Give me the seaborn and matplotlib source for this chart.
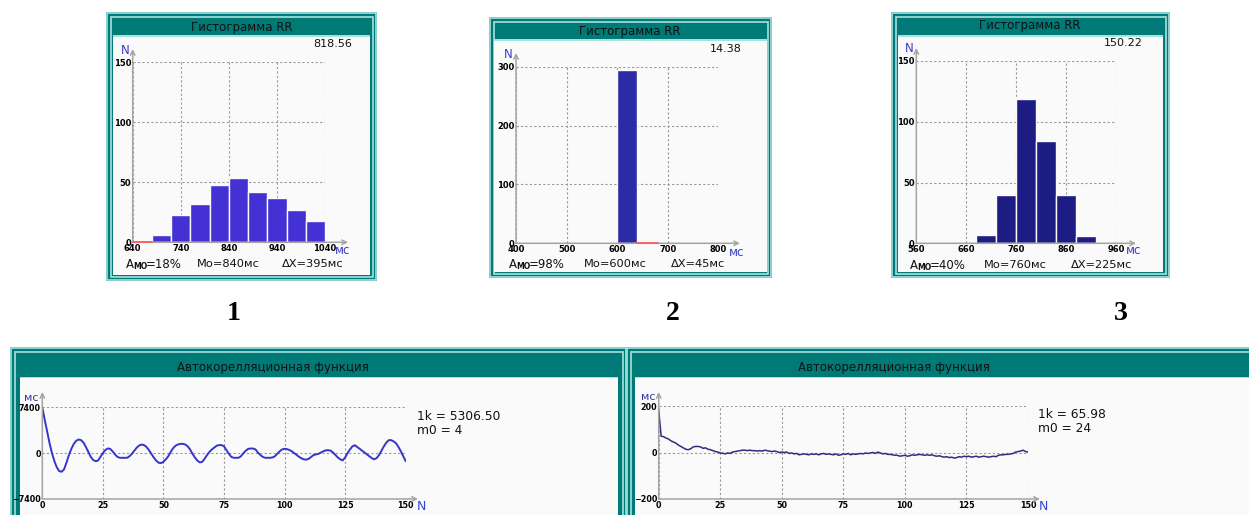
import matplotlib
matplotlib.use('Agg')
import matplotlib.pyplot as plt
import seaborn as sns
from matplotlib.patches import Rectangle

# ---------------- data ----------------
hist_title = 'Гистограмма RR'
acf_title = 'Автокорелляционная функция'
bin_width = 40

h1_bin_left = [680, 720, 760, 800, 840, 880, 920, 960, 1000]
h1_counts = [6, 23, 32, 48, 54, 42, 37, 27, 18]
h1_red = [640, 680]
h1_xticks = [640, 740, 840, 940, 1040]
h1_yticks = [0, 50, 100, 150]
h1_texts = ['818.56', '=18%', 'Мо=840мс', 'ΔX=395мс']

h2_bin_left = [560, 600]
h2_counts = [3, 295]
h2_red = [640, 680]
h2_xticks = [400, 500, 600, 700, 800]
h2_yticks = [0, 100, 200, 300]
h2_texts = ['14.38', '=98%', 'Мо=600мс', 'ΔX=45мс']

h3_bin_left = [680, 720, 760, 800, 840, 880]
h3_counts = [7, 40, 119, 84, 40, 6]
h3_xticks = [560, 660, 760, 860, 960]
h3_yticks = [0, 50, 100, 150]
h3_texts = ['150.22', '=40%', 'Мо=760мс', 'ΔX=225мс']

acf_lags = list(range(151))
acf1_values = [7400, 5400, 3500, 1600, 0, -1300, -2300, -2900, -3000, -2600,
               -1500, -300, 700, 1500, 2000, 2200, 2100, 1700, 1000, 200,
               -600, -1100, -1300, -1200, -600, 0, 500, 750, 700, 300,
               -200, -600, -750, -750, -750, -750, -500, -100, 400, 900,
               1250, 1380, 1300, 1000, 500, -100, -700, -1200, -1550, -1600,
               -1400, -1000, -500, 200, 800, 1200, 1400, 1500, 1500, 1400,
               1100, 600, -100, -700, -1200, -1500, -1400, -900, -300, 200,
               600, 900, 1200, 1300, 1300, 1100, 500, -100, -600, -750,
               -750, -750, -500, 0, 400, 700, 750, 750, 600, 100,
               -300, -600, -750, -750, -750, -700, -500, -100, 300, 600,
               700, 650, 500, 300, 0, -300, -600, -850, -1000, -1050,
               -900, -600, -300, -200, -100, 100, 300, 450, 480, 400,
               100, -300, -700, -1000, -1170, -700, 0, 600, 1100, 1280,
               1000, 700, 400, 100, -200, -500, -800, -1000, -800, -300,
               400, 1100, 1700, 2100, 2100, 1900, 1600, 1000, 300, -500,
               -1300]
acf1_texts = ['1k = 5306.50', 'm0 = 4']
acf1_yticks = [-7400, 0, 7400]

acf2_values = [180, 70, 68, 62, 58, 50, 45, 40, 32, 26,
               20, 14, 12, 16, 24, 26, 26, 24, 18, 20,
               14, 12, 8, 4, 2, -2, -3, -6, -2, -4,
               2, 4, 6, 8, 10, 10, 8, 10, 8, 8,
               6, 8, 6, 10, 8, 6, 4, 6, 4, 0,
               2, 0, 2, -4, -2, -6, -4, -10, -8, -6,
               -8, -10, -6, -8, -6, -10, -6, -4, -8, -6,
               -8, -10, -6, -12, -10, -6, -8, -4, -10, -6,
               -8, -6, -4, -6, -2, -4, -2, 0, -4, 2,
               -2, -6, -4, -8, -8, -10, -12, -12, -16, -14,
               -12, -16, -14, -10, -12, -10, -8, -10, -12, -10,
               -12, -10, -14, -16, -14, -18, -20, -18, -22, -20,
               -24, -22, -18, -20, -16, -18, -16, -20, -18, -16,
               -20, -18, -16, -18, -20, -18, -16, -18, -12, -10,
               -10, -8, -8, -6, -4, 2, 4, 6, 10, 4,
               2]
acf2_texts = ['1k = 65.98', 'm0 = 24']
acf2_yticks = [-200, 0, 200]
acf_xticks = [0, 25, 50, 75, 100, 125, 150]

# ---------------- style ----------------
sns.set_style('white')
plt.rcParams['font.family'] = ['DejaVu Sans']

W, H = 1249, 515
TEAL = '#007a76'
LIGHT = '#a6e2de'
BG = '#fafafa'
GRID = '#9a9a9a'
AXC = '#a4a4a4'
LBLUE = '#3a3acc'

fig = plt.figure(figsize=(W / 100, H / 100), dpi=100)
fig.patch.set_facecolor('white')


def rect(x0, y0, x1, y1, fc='none', ec='none', lw=0, z=-5):
    fig.add_artist(Rectangle((x0 / W, 1 - y1 / H), (x1 - x0) / W, (y1 - y0) / H,
                             transform=fig.transFigure, facecolor=fc,
                             edgecolor=ec, linewidth=lw, zorder=z))


def frame(outer, white):
    x0, y0, x1, y1 = outer
    rect(x0, y0, x1, y1, fc=TEAL, z=-6)
    rect(x0 + 0.8, y0 + 0.8, x1 - 0.8, y1 - 0.8, ec=LIGHT, lw=1.2, z=-5.5)
    rect(x0 + 4.5, y0 + 5, x1 - 4.5, y1 - 4.5, ec=LIGHT, lw=1.2, z=-5.5)
    wx0, wy0, wx1, wy1 = white
    rect(wx0, wy0 - 1.5, wx1, wy0, fc=LIGHT, z=-5.2)
    rect(wx0, wy0, wx1, wy1, fc=BG, z=-5)


def T(x, y, s, **kw):
    kw.setdefault('va', 'center')
    fig.text(x / W, 1 - y / H, s, **kw)


def axes_px(x0, x1, ytop, ybot):
    ax = fig.add_axes([x0 / W, 1 - ybot / H, (x1 - x0) / W, (ybot - ytop) / H])
    ax.set_facecolor('none')
    ax.patch.set_alpha(0)
    return ax


def style_axes(ax, xlim, ylim, xticks, yticks, arrow_x, arrow_y, fs=6):
    ax.set_xlim(xlim)
    ax.set_ylim(ylim)
    ax.set_xticks(xticks)
    ax.set_yticks(yticks)
    ax.set_xlabel('')
    ax.set_ylabel('')
    for s in ax.spines.values():
        s.set_visible(False)
    ax.grid(True, linestyle=(0, (2, 2)), color=GRID, linewidth=0.8)
    ax.tick_params(length=0, pad=1.2, labelsize=fs, colors='black')
    for lab in ax.get_xticklabels() + ax.get_yticklabels():
        lab.set_fontweight('bold')
    ax.set_axisbelow(True)
    bb = ax.get_position()
    ox, oy = bb.x0 * W, bb.y0 * H
    ax.annotate('', xy=(arrow_x, oy), xytext=(ox, oy), xycoords='figure pixels',
                textcoords='figure pixels', annotation_clip=False,
                arrowprops=dict(arrowstyle='->', color=AXC, lw=1.1, mutation_scale=8,
                                shrinkA=0, shrinkB=0))
    ax.annotate('', xy=(ox, H - arrow_y), xytext=(ox, oy), xycoords='figure pixels',
                textcoords='figure pixels', annotation_clip=False,
                arrowprops=dict(arrowstyle='->', color=AXC, lw=1.1, mutation_scale=8,
                                shrinkA=0, shrinkB=0))


def hist_panel(outer, white, title_xy, data_box, lefts, counts, color, xticks, yticks,
               red, texts, pos):
    frame(outer, white)
    T(title_xy[0], title_xy[1], hist_title, ha='center', fontsize=8.5, color='#111111')
    ax = axes_px(*data_box)
    centers = [l + bin_width / 2 for l in lefts]
    sns.histplot(x=centers, weights=counts, binwidth=bin_width,
                 binrange=(min(lefts), max(lefts) + bin_width), color=color,
                 alpha=1, edgecolor=BG, linewidth=1, ax=ax)
    style_axes(ax, (xticks[0], xticks[-1]), (yticks[0], yticks[-1]), xticks, yticks,
               pos['ax_end'], pos['ay_end'])
    if red is not None:
        ax.plot(red, [0, 0], color='#ff5c5c', lw=1.3, clip_on=False, zorder=6)
    T(pos['N'][0], pos['N'][1], 'N', ha='center', fontsize=8.5, color=LBLUE)
    T(pos['ms'][0], pos['ms'][1], 'мс', ha='left', fontsize=8.5, color=LBLUE)
    T(pos['val'][0], pos['val'][1], texts[0], ha='right', fontsize=8, color='#111111')
    yb = pos['row']
    T(pos['A'], yb, 'A', ha='left', fontsize=8.5, color='#111111')
    T(pos['A'] + 7.5, yb + 2.5, 'МО', ha='left', fontsize=5.5, fontweight='bold',
      color='#111111')
    T(pos['A'] + 20, yb, texts[1], ha='left', fontsize=8.5, color='#111111')
    T(pos['mo'], yb, texts[2], ha='left', fontsize=8.2, color='#111111')
    T(pos['dx'], yb, texts[3], ha='left', fontsize=8.2, color='#111111')


# ---------------- histograms ----------------
hist_panel((106, 12, 377, 281), (113, 37, 370, 275), (242, 27), (132.7, 325, 62.3, 242.3),
           h1_bin_left, h1_counts, '#4331d3', h1_xticks, h1_yticks, h1_red, h1_texts,
           dict(ax_end=348, ay_end=49, N=(125.5, 50), ms=(335, 251), val=(352, 44),
                row=264, A=126, mo=197, dx=282))

hist_panel((489, 17, 772, 278), (494, 41, 767, 272), (630, 32), (516, 718.3, 66.7, 243.3),
           h2_bin_left, h2_counts, '#2b2ba6', h2_xticks, h2_yticks, h2_red, h2_texts,
           dict(ax_end=740, ay_end=53, N=(508.5, 54), ms=(729, 252), val=(742, 49),
                row=264, A=508.5, mo=584, dx=671))

hist_panel((891, 12, 1170, 278), (898, 37, 1163, 272), (1030, 25), (916.3, 1116.3, 61, 243.3),
           h3_bin_left, h3_counts, '#1c1c82', h3_xticks, h3_yticks, None, h3_texts,
           dict(ax_end=1136, ay_end=48, N=(909, 48), ms=(1126, 250), val=(1143, 43),
                row=265.5, A=909.5, mo=984, dx=1071))

for lab, x in [('1', 233.5), ('2', 673), ('3', 1120.5)]:
    T(x, 313, lab, ha='center', fontsize=20, fontweight='bold',
      family=['Liberation Serif', 'DejaVu Serif'], color='black')


# ---------------- autocorrelation ----------------
def acf_panel(outer, white, title_xy, data_box, values, color, lw, yticks, texts, pos):
    frame(outer, white)
    T(title_xy[0], title_xy[1], acf_title, ha='center', fontsize=8.5, color='#111111')
    ax = axes_px(*data_box)
    sns.lineplot(x=acf_lags, y=values, color=color, linewidth=lw, ax=ax, zorder=3)
    style_axes(ax, (0, 150), (yticks[0], yticks[-1]), acf_xticks, yticks,
               pos['ax_end'], pos['ay_end'], fs=5.8)
    T(pos['ms'][0], pos['ms'][1], 'мс', ha='center', fontsize=8, color='#3333aa')
    T(pos['N'][0], pos['N'][1], 'N', ha='center', fontsize=9, color='#3344dd')
    T(pos['t'][0], pos['t'][1], texts[0], ha='left', fontsize=8.8, color='#111111')
    T(pos['t'][0], pos['t'][1] + 14, texts[1], ha='left', fontsize=8.8, color='#111111')


acf_panel((10, 347, 627, 530), (20, 378, 618, 530), (273, 367), (42.3, 405.7, 407.3, 499),
          acf1_values, '#3535cc', 1.4, acf1_yticks, acf1_texts,
          dict(ax_end=418, ay_end=392, ms=(31, 398), N=(421, 507), t=(417, 416)))

acf_panel((626, 347, 1270, 530), (635, 378, 1262, 530), (894, 367), (658.7, 1028, 406, 499),
          acf2_values, '#2f2f7a', 1.1, acf2_yticks, acf2_texts,
          dict(ax_end=1040, ay_end=392, ms=(648, 397), N=(1043, 507), t=(1038, 415)))

fig.savefig('out.png', dpi=100)
